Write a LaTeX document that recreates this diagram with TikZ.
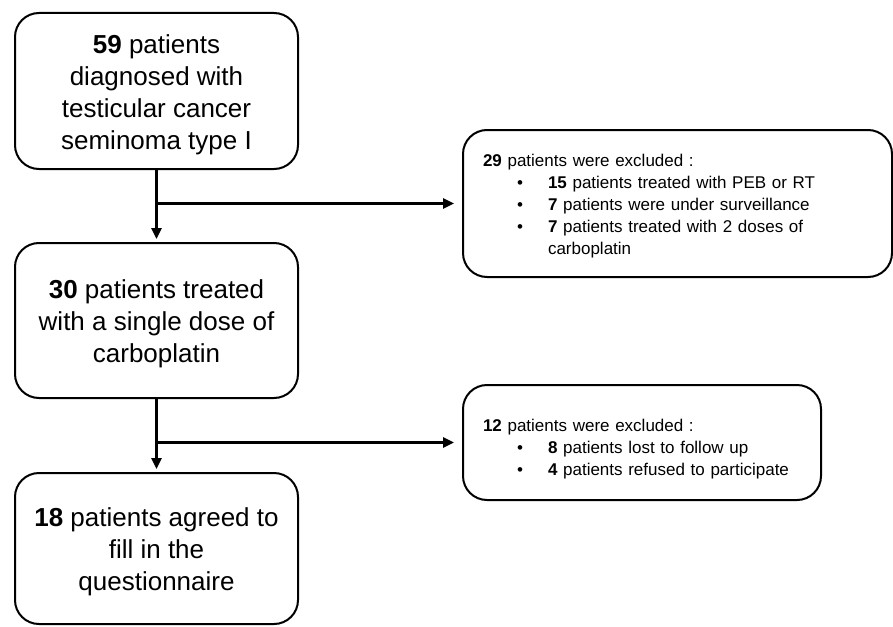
\documentclass[tikz,border=0pt]{standalone}
\usepackage{fontspec}
\setmainfont{Liberation Sans}
\usetikzlibrary{arrows.meta,positioning}
\newcommand{\bigtxt}{\fontsize{13}{16}\selectfont}
\newcommand{\smalltxt}{\fontsize{8.5}{11}\selectfont}
\newcommand{\bul}{\hspace{17pt}\textbullet}
\newcommand{\dropped}[2]{\raisebox{-#1}[\height][\depth]{#2}}
\begin{document}
\begin{tikzpicture}[x=0.5pt,y=-0.5pt,
  stagebox/.style={draw,line width=1pt,rounded corners=12pt,
    minimum width=141.5pt,align=center,font=\bigtxt},
  exclbox/.style={draw,line width=1pt,rounded corners=12pt,
    inner xsep=10pt,align=left,font=\smalltxt},
  conn/.style={line width=1.3pt,-{Triangle[length=5.5pt,width=5pt]}}]
\useasboundingbox (0,0) rectangle (893,626);
% main flow
\node[stagebox,minimum height=78pt] (diag) at (156.5,91)
  {\dropped{2pt}{\begin{tabular}{@{}c@{}}\textbf{59} patients\\ diagnosed with\\
   testicular cancer\\ seminoma type I\end{tabular}}};
\node[stagebox,minimum height=77.5pt] (single) at (156.5,320.5)
  {\dropped{2pt}{\begin{tabular}{@{}c@{}}\textbf{30} patients treated\\
   with a single dose of\\ carboplatin\end{tabular}}};
\node[stagebox,minimum height=75.5pt] (agreed) at (156.5,548.5)
  {\dropped{2pt}{\begin{tabular}{@{}c@{}}\textbf{18} patients agreed to\\
   fill in the\\ questionnaire\end{tabular}}};
% exclusions
\node[exclbox,text width=194.5pt,minimum height=73.5pt] (excla) at (677.5,203.5)
  {\dropped{1.5pt}{\begin{tabular}{@{}p{32.5pt}@{}l@{}}
   \multicolumn{2}{@{}l@{}}{\textbf{29} patients were excluded :}\\
   \bul & \textbf{15} patients treated with PEB or RT\\
   \bul & \textbf{7} patients were under surveillance\\
   \bul & \textbf{7} patients treated with 2 doses of\\
        & carboplatin
   \end{tabular}}};
\node[exclbox,text width=159pt,minimum height=57.5pt] (exclb) at (642,442.5)
  {\dropped{3.5pt}{\begin{tabular}{@{}p{32.5pt}@{}l@{}}
   \multicolumn{2}{@{}l@{}}{\textbf{12} patients were excluded :}\\
   \bul & \textbf{8} patients lost to follow up\\
   \bul & \textbf{4} patients refused to participate
   \end{tabular}}};
% connectors
\draw[conn,shorten >=1.5pt] (diag.south) -- (single.north);
\draw[conn,shorten >=4pt] (diag.south |- excla.west) -- (excla.west);
\draw[conn,shorten >=1.5pt] (single.south) -- (agreed.north);
\draw[conn,shorten >=4pt] (single.south |- exclb.west) -- (exclb.west);
\end{tikzpicture}
\end{document}
